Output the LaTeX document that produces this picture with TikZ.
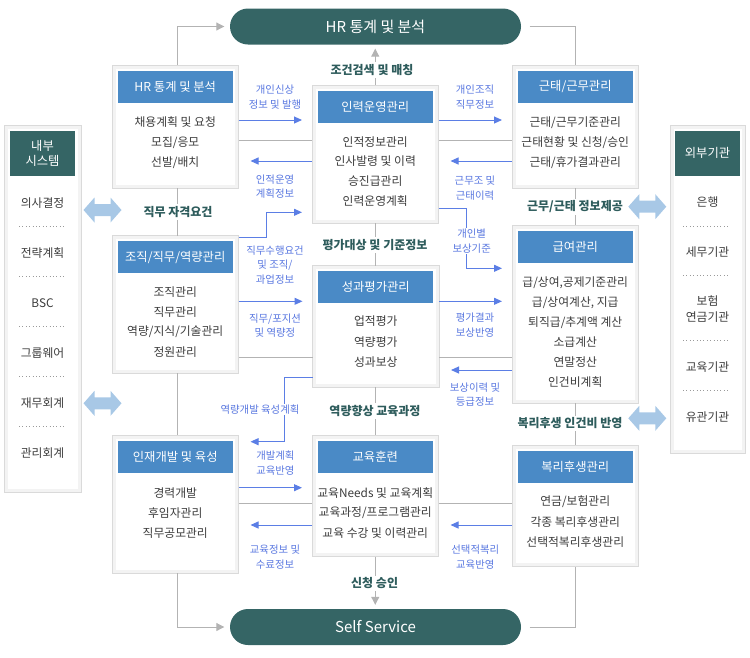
\documentclass[tikz,border=0pt]{standalone}
\usepackage{fontspec}
\setmainfont{Noto Sans CJK KR}
\usetikzlibrary{arrows.meta,positioning,calc}
\definecolor{hblue}{HTML}{4A8AC6}
\definecolor{pilltl}{HTML}{356565}
\definecolor{captc}{HTML}{2E5C5C}
\definecolor{lblue}{HTML}{5A78E0}
\definecolor{abl}{HTML}{5B7EE5}
\definecolor{dblc}{HTML}{A8C8E6}
\definecolor{glinec}{HTML}{B3B3B3}
\definecolor{btext}{HTML}{3C3C3C}
\definecolor{framec}{HTML}{DADADA}
\definecolor{bandc}{HTML}{F3F3F3}
\definecolor{dotc}{HTML}{9A9A9A}
\newcommand\dblarr[2]{\fill[dblc] ({#1-19},{#2}) -- ({#1-8},{#2-12.5}) -- ({#1-8},{#2-6}) -- ({#1+8},{#2-6}) -- ({#1+8},{#2-12.5}) -- ({#1+19},{#2}) -- ({#1+8},{#2+12.5}) -- ({#1+8},{#2+6}) -- ({#1-8},{#2+6}) -- ({#1-8},{#2+12.5}) -- cycle;}
\begin{document}
\begin{tikzpicture}[x=1pt,y=-1pt,
  mybox/.style={draw=framec, fill=white, line width=0.8pt, inner sep=0pt, outer sep=0pt, anchor=north west,
    path picture={\draw[bandc,line width=7pt] (path picture bounding box.south west) rectangle (path picture bounding box.north east);}},
  hdr/.style={fill=hblue, text=white, inner sep=0pt, outer sep=0pt, minimum width=115pt, minimum height=32pt, font=\fontsize{12.3}{14}\selectfont, anchor=north},
  bodytxt/.style={text=btext, inner sep=0pt, align=center, font=\fontsize{11.8}{15.7}\selectfont},
  lbl/.style={text=lblue, align=center, inner sep=1pt, font=\fontsize{10.4}{14.5}\selectfont},
  captn/.style={text=captc, fill=white, inner sep=2pt, font=\fontsize{12}{13}\selectfont\bfseries},
  pill/.style={fill=pilltl, text=white, rounded corners=18pt, minimum width=291pt, minimum height=36pt, inner sep=0pt, font=\fontsize{15}{17}\selectfont},
  gl/.style={draw=glinec, line width=1pt},
  garr/.style={gl, -{Triangle[length=8pt,width=8pt]}},
  barr/.style={draw=abl, line width=1pt, -{Triangle[length=8pt,width=7pt]}, shorten >=10pt},
  dotl/.style={draw=dotc, line width=0.8pt, dash pattern=on 0.8pt off 2.6pt},
]
\useasboundingbox (0,0) rectangle (750,657);

% pills
\node[pill] (top) at (375.5,26.5) {HR 통계 및 분석};
\node[pill] (bot) at (375.5,627) {Self Service};

% boxes
\node[mybox, minimum width=126.5pt, minimum height=123pt] (A) at (112,65) {};
\node[hdr, below=5.7pt of A.north] (Ah) {HR 통계 및 분석};
\foreach \txt [count=\i] in {채용계획 및 요청, 모집/응모, 선발/배치}
  \node[bodytxt] (A-\i) at (175.25, 102.3+20*\i) {\txt};

\node[mybox, minimum width=126.5pt, minimum height=138pt] (B) at (312,85) {};
\node[hdr, below=5.7pt of B.north] (Bh) {인력운영관리};
\foreach \txt [count=\i] in {인적정보관리, 인사발령 및 이력, 승진급관리, 인력운영계획}
  \node[bodytxt] (B-\i) at (375.25, 121.8+19.9*\i) {\txt};

\node[mybox, minimum width=126.5pt, minimum height=123pt] (C) at (512,65) {};
\node[hdr, below=5.7pt of C.north] (Ch) {근태/근무관리};
\foreach \txt [count=\i] in {근태/근무기준관리, 근태현황 및 신청/승인, 근태/휴가결과관리}
  \node[bodytxt] (C-\i) at (575.25, 102.3+20*\i) {\txt};

\node[mybox, minimum width=126.5pt, minimum height=137.5pt] (D) at (112,235.5) {};
\node[hdr, below=5.7pt of D.north] (Dh) {조직/직무/역량관리};
\foreach \txt [count=\i] in {조직관리, 직무관리, 역량/지식/기술관리, 정원관리}
  \node[bodytxt] (D-\i) at (175.25, 271.7+20*\i) {\txt};

\node[mybox, minimum width=126.5pt, minimum height=121.5pt] (E) at (312.5,265.5) {};
\node[hdr, below=5.7pt of E.north] (Eh) {성과평가관리};
\foreach \txt [count=\i] in {업적평가, 역량평가, 성과보상}
  \node[bodytxt] (E-\i) at (375.75, 300.5+20.6*\i) {\txt};

\node[mybox, minimum width=126.5pt, minimum height=178pt] (F) at (512,225) {};
\node[hdr, below=5.7pt of F.north] (Fh) {급여관리};
\foreach \txt [count=\i] in {{급/상여,공제기준관리}, {급/상여계산, 지급}, 퇴직급/추계액 계산, 소급계산, 연말정산, 인건비계획}
  \node[bodytxt] (F-\i) at (575.25, 262.3+20*\i) {\txt};

\node[mybox, minimum width=126.5pt, minimum height=138pt] (G) at (112,435) {};
\node[hdr, below=5.7pt of G.north] (Gh) {인재개발 및 육성};
\foreach \txt [count=\i] in {경력개발, 후임자관리, 직무공모관리}
  \node[bodytxt] (G-\i) at (175.25, 472.7+20*\i) {\txt};

\node[mybox, minimum width=126.5pt, minimum height=121.5pt] (H) at (312,435) {};
\node[hdr, below=5.7pt of H.north] (Hh) {교육훈련};
\foreach \txt [count=\i] in {교육Needs 및 교육계획, 교육과정/프로그램관리, 교육 수강 및 이력관리}
  \node[bodytxt] (H-\i) at (375.25, 472.7+20*\i) {\txt};

\node[mybox, minimum width=126.5pt, minimum height=121.5pt] (I) at (512,445) {};
\node[hdr, below=5.7pt of I.north] (Ih) {복리후생관리};
\foreach \txt [count=\i] in {연금/보험관리, 각종 복리후생관리, 선택적복리후생관리}
  \node[bodytxt] (I-\i) at (575.25, 481.7+20*\i) {\txt};

% external boxes
\node[mybox, minimum width=77pt, minimum height=367.5pt] (LX) at (4,125) {};
\node[hdr, fill=pilltl, minimum width=65pt, minimum height=45pt, align=center, font=\fontsize{12.3}{15.6}\selectfont, below=5.7pt of LX.north] (LXh) {내부\\시스템};
\foreach \txt [count=\i] in {의사결정, 전략계획, BSC, 그룹웨어, 재무회계, 관리회계}
  \node[bodytxt] (LX-\i) at (42.5, 153.3+50*\i) {\txt};
\foreach \i in {0,...,4}
  \draw[dotl] (19,226.7+50*\i) -- (64,226.7+50*\i);

\node[mybox, minimum width=75pt, minimum height=328pt] (RX) at (670,125) {};
\node[hdr, fill=pilltl, minimum width=65pt, minimum height=45pt, below=5.7pt of RX.north] (RXh) {외부기관};
\node[bodytxt] (RX-1) at (707.5,201.7) {은행};
\node[bodytxt] (RX-2) at (707.5,252.3) {세무기관};
\node[bodytxt] (RX-3) at (707.5,308.8) {보험\\연금기관};
\node[bodytxt] (RX-4) at (707.5,366.7) {교육기관};
\node[bodytxt] (RX-5) at (707.5,416.7) {유관기관};
\foreach \yy in {226.7, 275.7, 340, 390}
  \draw[dotl] (683,\yy) -- (730,\yy);

% helper coordinates
\coordinate (r120) at (0,120);
\coordinate (r140) at (0,140);
\coordinate (r161) at (0,161);
\coordinate (r301) at (0,301.3);
\coordinate (r357) at (0,357.3);
\coordinate (r370) at (0,370);
\coordinate (r488) at (0,487.7);
\coordinate (r503) at (0,503.3);
\coordinate (r525) at (0,525);
\coordinate (s1) at (0,208.3);
\coordinate (kBF) at (466,268.3);
\coordinate (s2) at (0,237.7);
\coordinate (kDB) at (266.7,212.3);
\coordinate (s3) at (0,377);
\coordinate (kEG) at (284.3,441.7);

% gray connectors
\draw[garr, shorten >=5.5pt] ([xshift=2pt]A.north) |- (top.west);
\draw[gl, shorten <=8.5pt] (top.east) -| (C.north);
\draw[garr, shorten >=4pt] (B.north) -- (B.north |- top.south);
\draw[garr, shorten >=5.5pt] ([xshift=2pt]G.south) |- (bot.west);
\draw[gl, shorten <=8.5pt] (bot.east) -| (I.south);
\draw[garr, shorten >=4pt] (H.south) -- (H.south |- bot.north);
\draw[gl] ([xshift=2pt]A.south) -- ([xshift=2pt]D.north);
\draw[gl] ([xshift=2pt]D.south) -- ([xshift=2pt]G.north);
\draw[gl] (B.south) -- (B.south |- E.north);
\draw[gl] (E.south) -- (E.south |- H.north);
\draw[gl] (C.south) -- (F.north);
\draw[gl] (F.south) -- (I.north);
\draw[gl] (A.east |- r140) -- (B.west |- r140);
\draw[gl] (B.east |- r140) -- (C.west |- r140);
\draw[gl] (D.east |- r357) -- (E.west |- r357);
\draw[gl] (E.east |- r357) -- (F.west |- r357);
\draw[gl] (G.east |- r503) -- (H.west |- r503);
\draw[gl] (H.east |- r503) -- (I.west |- r503);

% blue arrows
\draw[barr] (A.east |- r120) -- (B.west |- r120);
\draw[barr, shorten >=12pt] (B.west |- r161) -- (A.east |- r161);
\draw[barr] (B.east |- r120) -- (C.west |- r120);
\draw[barr, shorten >=12pt] (C.west |- r161) -- (B.east |- r161);
\draw[barr] (B.east |- s1) -| (kBF) -- (F.west |- kBF);
\draw[barr] (D.east |- s2) -| (kDB) -- (B.west |- kDB);
\draw[barr] (D.east |- r301) -- (E.west |- r301);
\draw[barr] (E.east |- r301) -- (F.west |- r301);
\draw[barr, shorten >=12pt] (F.west |- r370) -- (E.east |- r370);
\draw[barr, shorten >=12pt] (E.west |- s3) -| (kEG) -- (G.east |- kEG);
\draw[barr] (G.east |- r488) -- (H.west |- r488);
\draw[barr, shorten >=12pt] (H.west |- r525) -- (G.east |- r525);
\draw[barr, shorten >=12pt] (I.west |- r525) -- (H.east |- r525);

% captions
\node[captn] (c1) at (372,70) {조건검색 및 매칭};
\node[captn] (c2) at (178,212) {직무 자격요건};
\node[captn] (c3) at (375,245) {평가대상 및 기준정보};
\node[captn] (c4) at (575,207) {근무/근태 정보제공};
\node[captn] (c5) at (375,411) {역량향상 교육과정};
\node[captn] (c6) at (570,423.3) {복리후생 인건비 반영};
\node[captn] (c7) at (374.6,583.3) {신청 승인};

% blue labels
\node[lbl] (l1) at (275,97) {개인신상\\정보 및 발행};
\node[lbl] (l2) at (275,186.7) {인적운영\\계획정보};
\node[lbl] (l3) at (475,97) {개인조직\\직무정보};
\node[lbl] (l4) at (475,188) {근무조 및\\근태이력};
\node[lbl] (l5) at (275,264.7) {직무수행요건\\및 조직/\\과업정보};
\node[lbl] (l6) at (275,325.5) {직무/포지션\\및 역량정};
\node[lbl, fill=white] (l7) at (471.7,241) {개인별\\보상기준};
\node[lbl] (l8) at (475,325) {평가결과\\보상반영};
\node[lbl] (l9) at (475,394.5) {보상이력 및\\등급정보};
\node[lbl, fill=white] (l10) at (260,409.3) {역량개발 육성계획};
\node[lbl] (l11) at (275.4,463) {개발계획\\교육반영};
\node[lbl] (l12) at (275,557) {교육정보 및\\수료정보};
\node[lbl] (l13) at (475.3,557) {선택적복리\\교육반영};

% double arrows
\dblarr{102.5}{210}
\dblarr{102.5}{403.3}
\dblarr{647.3}{206.7}
\dblarr{647.3}{418.3}
\end{tikzpicture}
\end{document}
